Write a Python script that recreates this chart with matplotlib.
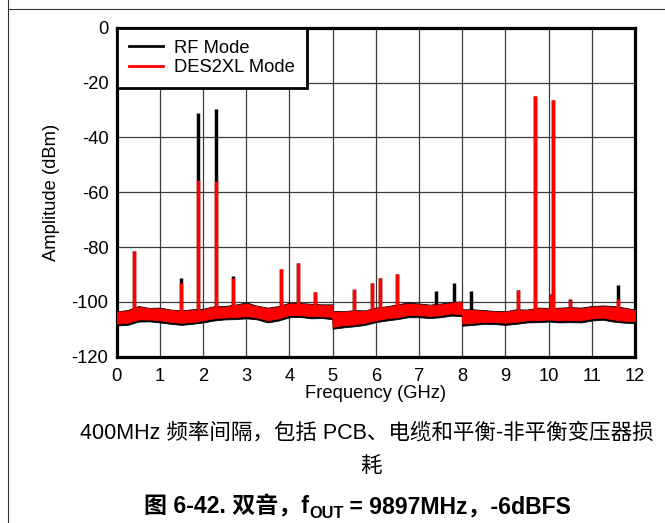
import matplotlib
matplotlib.use("Agg")
import matplotlib.pyplot as plt
from matplotlib.lines import Line2D
import numpy as np

# ---------------- data ----------------
# noise-floor envelope (GHz, dBm)
nf_freq = [0, 0.25, 0.5, 0.75, 1.0, 1.25, 1.5, 1.75, 2.0, 2.25, 2.5, 2.75, 3.0, 3.25, 3.5,
           3.75, 4.0, 4.25, 4.5, 4.75, 4.99, 5.0, 5.25, 5.5, 5.75, 6.0, 6.25, 6.5, 6.75,
           7.0, 7.25, 7.5, 7.75, 7.99, 8.0, 8.25, 8.5, 8.75, 9.0, 9.25, 9.5, 9.75, 10.0,
           10.25, 10.5, 10.75, 11.0, 11.25, 11.5, 11.75, 12.0]
red_hi = [-103.6, -103.3, -101.8, -102.4, -102.4, -103.0, -103.3, -103.0, -102.8, -101.8,
          -101.8, -101.2, -100.6, -101.6, -102.4, -101.8, -100.6, -100.6, -101.0, -101.2,
          -101.2, -103.6, -103.6, -103.3, -103.3, -102.4, -101.8, -101.2, -100.6,
          -100.9, -101.2, -100.9, -100.4, -100.0, -103.0, -103.0, -103.3, -103.6, -103.6,
          -103.0, -103.0, -102.4, -102.4, -102.4, -102.2, -102.4, -101.8, -101.6, -101.8,
          -102.4, -103.0]
red_lo = [-107.9, -107.6, -106.4, -106.4, -106.7, -107.3, -107.6, -107.3, -106.7, -106.0,
          -105.7, -105.5, -105.2, -105.7, -106.7, -106.0, -104.8, -104.8, -105.2, -105.2,
          -105.5, -109.1, -108.5, -108.2, -107.6, -106.7, -106.0, -105.6, -104.8,
          -104.8, -105.2, -104.8, -104.2, -104.5, -107.9, -107.6, -107.3, -107.3, -107.6,
          -107.3, -106.7, -106.7, -106.4, -106.7, -106.7, -106.7, -106.0, -105.7, -106.4,
          -106.9, -107.0]
blk_hi = [-103.4, -103.0, -101.5, -102.2, -102.1, -102.8, -103.1, -102.7, -102.5, -101.6,
          -101.5, -101.0, -100.2, -101.4, -102.1, -101.5, -100.3, -100.4, -100.7, -100.9,
          -100.9, -103.3, -103.4, -103.0, -103.1, -102.1, -101.6, -100.9, -100.2,
          -100.6, -101.0, -100.6, -100.1, -99.8, -102.7, -102.7, -103.0, -103.3, -103.4,
          -102.7, -102.8, -102.1, -102.2, -102.1, -101.9, -102.1, -101.5, -101.3, -101.5,
          -102.1, -102.8]
blk_lo = [-108.6, -108.4, -107.2, -107.1, -107.5, -108.0, -108.4, -108.0, -107.5, -106.8,
          -106.4, -106.3, -106.0, -106.4, -107.5, -106.8, -105.6, -105.5, -106.0, -105.9,
          -106.3, -109.8, -109.3, -108.9, -108.4, -107.4, -106.8, -106.3, -105.6,
          -105.6, -105.9, -105.6, -105.0, -105.2, -108.7, -108.4, -108.0, -108.1, -108.4,
          -108.0, -107.5, -107.4, -107.2, -107.5, -107.4, -107.5, -106.8, -106.5, -107.2,
          -107.6, -107.7]

# spurs / tones (GHz, peak dBm)
blk_spur_freq = [0.4, 1.5, 1.89, 2.3, 2.7, 3.8, 4.2, 4.6, 5.5, 5.9, 6.1, 6.5, 7.4, 7.8,
                 8.2, 9.3, 9.68, 10.05, 10.09, 10.5, 11.6]
blk_spur_peak = [-81.5, -91.3, -31.1, -29.7, -90.7, -88.0, -85.8, -96.3, -95.5, -93.3,
                 -91.2, -90.0, -95.9, -93.3, -96.2, -95.7, -24.8, -97.0, -26.4, -99.0, -93.7]
red_spur_freq = [0.4, 1.5, 1.89, 2.3, 2.7, 3.8, 4.2, 4.6, 5.5, 5.9, 6.1, 6.5, 7.8,
                 9.3, 9.68, 10.05, 10.09, 10.5, 11.6]
red_spur_peak = [-81.5, -93.0, -55.5, -56.0, -91.2, -88.0, -85.8, -96.5, -95.3, -93.3,
                 -91.2, -90.0, -100.0, -95.7, -24.8, -97.3, -26.4, -99.3, -98.9]

series_names = ["RF Mode", "DES2XL Mode"]
x_ticks = list(range(0, 13))
y_ticks = [0, -20, -40, -60, -80, -100, -120]

# ---------------- figure ----------------
LAT = ['Liberation Sans', 'Noto Sans CJK SC', 'DejaVu Sans']
plt.rcParams['font.family'] = LAT
plt.rcParams['axes.unicode_minus'] = False

FS = 13.2
W, H = 665, 523
fig = plt.figure(figsize=(W / 100, H / 100), dpi=100)

# frame lines of the page
fig.add_artist(Line2D([8 / W, 1.0], [1 - 9 / H, 1 - 9 / H], color='#333333', lw=0.8))
fig.add_artist(Line2D([8 / W, 8 / W], [0, 1.0], color='#333333', lw=0.8))

ax = fig.add_axes([116.7 / W, 1 - 356.7 / H, (635 - 116.7) / W, (356.7 - 27.7) / H])

ax.fill_between(nf_freq, blk_lo, blk_hi, color='black', lw=0.6, zorder=3)
ax.vlines(blk_spur_freq, -104, blk_spur_peak, color='black', lw=2.5, zorder=3)
ax.fill_between(nf_freq, red_lo, red_hi, color='#ff0000', lw=0.6, zorder=4)
ax.vlines(red_spur_freq, -104, red_spur_peak, color='#ff0000', lw=2.5, zorder=4)

ax.set_xlim(0, 12)
ax.set_ylim(-120, 0)
ax.set_xticks(x_ticks)
ax.set_yticks(y_ticks)
ax.grid(True, color='#3a3a3a', lw=0.9, zorder=1)
ax.set_axisbelow(True)
for s in ax.spines.values():
    s.set_linewidth(2.3)
    s.set_color('black')
ax.tick_params(length=0, labelsize=FS)
ax.tick_params(axis='y', pad=6)
ax.tick_params(axis='x', pad=8)
ax.set_xlabel('Frequency (GHz)', fontsize=FS, labelpad=0)
ax.set_ylabel('Amplitude (dBm)', fontsize=FS, labelpad=8)

handles = [Line2D([], [], color='black', lw=2), Line2D([], [], color='#ff0000', lw=2)]
leg = ax.legend(handles, series_names, loc='upper left', fontsize=FS, frameon=True,
                fancybox=False, borderaxespad=0, handlelength=1.9, handletextpad=0.6,
                borderpad=0.65, labelspacing=0.14)
leg.get_frame().set_edgecolor('black')
leg.get_frame().set_linewidth(2.0)
leg.get_frame().set_alpha(1)
leg.set_zorder(10)

# captions
fig.text(367 / W, 1 - 433 / H, '400MHz 频率间隔，包括 PCB、电缆和平衡-非平衡变压器损',
         ha='center', va='center', fontsize=15.5, family=LAT)
fig.text(371 / W, 1 - 466 / H, '耗', ha='center', va='center', fontsize=15.5, family=LAT)

# bold caption with subscript, laid out piecewise
fig.canvas.draw()
r = fig.canvas.get_renderer()
pieces = [('图 6-42. 双音，f', 16.6, 0), ('OUT', 11.8, -5), (' = 9897MHz，-6dBFS', 16.6, 0)]
base_y = H - 513  # baseline in pixels from bottom
texts = []
widths = []
for s, fs, dy in pieces:
    t = fig.text(0, 0, s, fontsize=fs, fontweight='bold', family=LAT, va='baseline', ha='left')
    bb = t.get_window_extent(r)
    widths.append(bb.width)
    texts.append(t)
total = sum(widths)
x0 = 357.5 - total / 2
for (s, fs, dy), t, w in zip(pieces, texts, widths):
    t.set_position((x0 / W, (base_y + dy) / H))
    x0 += w

fig.savefig('out.png', dpi=100)
